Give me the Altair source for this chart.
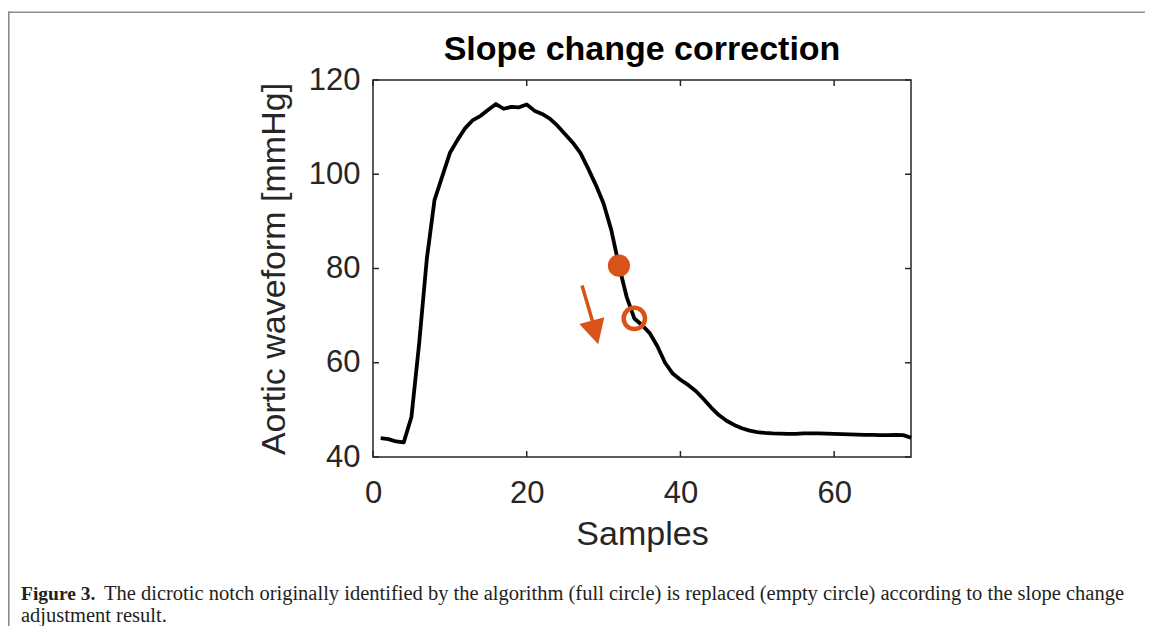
import altair as alt
import pandas as pd

# ---- data ----
samples = list(range(1, 71))
pressure = [
    44.0, 43.8, 43.3, 43.1, 48.5, 64.0, 82.0, 94.5, 99.5, 104.5,
    107.3, 109.8, 111.5, 112.4, 113.7, 114.9, 113.9, 114.3, 114.2, 114.8,
    113.5, 112.8, 111.8, 110.3, 108.5, 106.7, 104.5, 101.2, 97.7, 93.8,
    88.2, 80.6, 74.0, 69.4, 68.0, 66.3, 63.5, 60.0, 57.7, 56.4,
    55.3, 54.0, 52.3, 50.5, 48.9, 47.7, 46.8, 46.1, 45.6, 45.3,
    45.1, 45.0, 44.95, 44.9, 44.9, 45.0, 45.0, 45.0, 44.95, 44.9,
    44.85, 44.8, 44.75, 44.7, 44.7, 44.65, 44.65, 44.7, 44.65, 44.1,
]
notch_original = {"x": [32], "y": [80.6]}    # full circle
notch_corrected = {"x": [34], "y": [69.4]}   # empty circle
arrow_tail = {"x": [27.2], "y": [76.4]}
arrow_base = {"x": [28.6], "y": [68.6]}
arrow_tip = {"x": [29.3], "y": [63.9]}
x_ticks = [0, 20, 40, 60]
y_ticks = [40, 60, 80, 100, 120]

title_text = "Slope change correction"
x_title = "Samples"
y_title = "Aortic waveform [mmHg]"
caption_bold = "Figure 3."
caption_line1 = ("The dicrotic notch originally identified by the algorithm (full circle) "
                 "is replaced (empty circle) according to the slope change")
caption_line2 = "adjustment result."

# ---- layout / style ----
W, H = 538, 377
PAD = {"left": 365, "top": 72, "right": 234, "bottom": 169}
ORANGE = "#D95319"
AXC = "#262626"
SANS = "Liberation Sans"
SERIF = "Liberation Serif"
TICK = 6
CAP_SIZE = 20.5

xs = alt.Scale(domain=[0, 70], nice=False, zero=False)
ys = alt.Scale(domain=[40, 120], nice=False, zero=False)
xaxis = alt.Axis(title=x_title, values=x_ticks, format="d", grid=False, domain=False,
                 ticks=False, tickSize=0, labelPadding=21, labelFontSize=31,
                 labelFont=SANS, labelColor=AXC, titleFont=SANS, titleFontSize=34,
                 titleFontWeight="normal", titleColor=AXC, titleBaseline="alphabetic",
                 titleY=87, labelFlush=False)
yaxis = alt.Axis(title=y_title, values=y_ticks, format="d", grid=False, domain=False,
                 ticks=False, tickSize=0, labelPadding=13, labelFontSize=31,
                 labelFont=SANS, labelColor=AXC, titleFont=SANS, titleFontSize=34,
                 titleFontWeight="normal", titleColor=AXC, titleBaseline="alphabetic",
                 titleX=-89, titleY=H / 2, titleAngle=270, titleAlign="center",
                 labelFlush=False)


def X(f="x"):
    return alt.X(f, type="quantitative", scale=xs, axis=xaxis)


def Y(f="y"):
    return alt.Y(f, type="quantitative", scale=ys, axis=yaxis)


curve = pd.DataFrame({"x": samples, "y": pressure})
one = pd.DataFrame({"a": [0]})

line = alt.Chart(curve).mark_line(color="black", strokeWidth=3.8, strokeJoin="round").encode(
    x=X(), y=Y())

full_pt = alt.Chart(pd.DataFrame(notch_original)).mark_point(
    shape="circle", filled=True, size=491, color=ORANGE, opacity=1).encode(x=X(), y=Y())

empty_pt = alt.Chart(pd.DataFrame(notch_corrected)).mark_point(
    shape="circle", filled=False, size=452, color=ORANGE, strokeWidth=4.5, opacity=1).encode(
    x=X(), y=Y())

arrow_df = pd.DataFrame({"x": arrow_tail["x"], "y": arrow_tail["y"],
                         "x2": arrow_base["x"], "y2": arrow_base["y"]})
shaft = alt.Chart(arrow_df).mark_rule(color=ORANGE, strokeWidth=3.5, strokeCap="butt").encode(
    x=X(), y=Y(), x2="x2:Q", y2="y2:Q")

head = alt.Chart(pd.DataFrame(arrow_tip)).mark_point(
    shape="M -1.05 -2 L 1.05 -2 L 0 0 Z", filled=True, size=605, angle=345,
    color=ORANGE, opacity=1, strokeWidth=0).encode(x=X(), y=Y())

xt = pd.DataFrame({"x": x_ticks})
yt = pd.DataFrame({"y": y_ticks})
tick_style = dict(color=AXC, strokeWidth=1.5)
xt_bot = alt.Chart(xt).mark_rule(**tick_style).encode(
    x=X(), y=alt.value(H), y2=alt.value(H - TICK))
xt_top = alt.Chart(xt).mark_rule(**tick_style).encode(
    x=X(), y=alt.value(0), y2=alt.value(TICK))
yt_left = alt.Chart(yt).mark_rule(**tick_style).encode(
    y=Y(), x=alt.value(0), x2=alt.value(TICK))
yt_right = alt.Chart(yt).mark_rule(**tick_style).encode(
    y=Y(), x=alt.value(W), x2=alt.value(W - TICK))

title = alt.Chart(one).mark_text(
    text=title_text, font=SANS, fontSize=34, fontWeight="bold", color="black",
    align="center", baseline="alphabetic").encode(x=alt.value(W / 2), y=alt.value(-20))

cap_b = alt.Chart(one).mark_text(
    text=caption_bold, font=SERIF, fontSize=19.5, fontWeight="bold", color="#231f20",
    align="left", baseline="alphabetic").encode(x=alt.value(-352), y=alt.value(520))
cap_1 = alt.Chart(one).mark_text(
    text=caption_line1, font=SERIF, fontSize=CAP_SIZE, color="#231f20",
    align="left", baseline="alphabetic").encode(x=alt.value(-269), y=alt.value(520))
cap_2 = alt.Chart(one).mark_text(
    text=caption_line2, font=SERIF, fontSize=CAP_SIZE, color="#231f20",
    align="left", baseline="alphabetic").encode(x=alt.value(-352), y=alt.value(542))

BORDER = "#8c8c8c"
border_top = alt.Chart(one).mark_rule(color=BORDER, strokeWidth=1.6).encode(
    x=alt.value(-365), x2=alt.value(W + PAD["right"]), y=alt.value(-67.7))
border_left = alt.Chart(one).mark_rule(color=BORDER, strokeWidth=1.6).encode(
    x=alt.value(-364.2), y=alt.value(-68.5), y2=alt.value(H + PAD["bottom"]))

chart = alt.layer(
    line, shaft, head, empty_pt, full_pt,
    xt_bot, xt_top, yt_left, yt_right,
    title, cap_b, cap_1, cap_2, border_top, border_left,
).properties(
    width=W, height=H,
    padding=PAD,
    autosize=alt.AutoSizeParams(type="none"),
    background="white",
).configure_view(
    stroke=AXC, strokeWidth=1.5
)

chart.save("out.html", embed_options={"renderer": "svg", "actions": False})
